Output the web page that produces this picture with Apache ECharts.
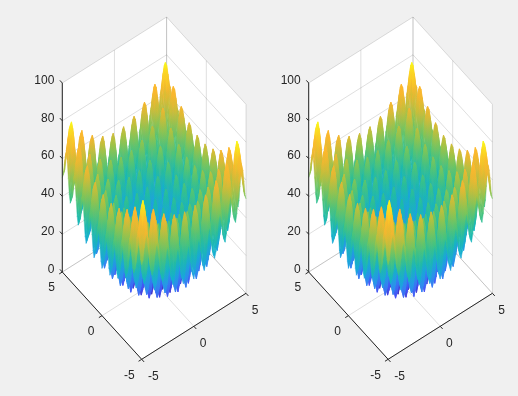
<!DOCTYPE html>
<html>
<head>
<meta charset="utf-8">
<style>
html,body{margin:0;padding:0;background:#f0f0f0;}
#main{width:518px;height:396px;}
</style>
<script src="https://cdn.jsdelivr.net/npm/echarts@6/dist/echarts.min.js"></script>
</head>
<body>
<div id="main"></div>
<script>
// heights read on a 0.125 grid, x and y from 0 to 5 (the surface repeats in the other quadrants)
var zQuarter = [
[0,3,10,17,20,17,11,4,1,4,12,19,22,20,13,6,4,7,15,23,26,24,18,11,9,13,21,28,32,30,24,18,16,20,28,36,40,38,33,27,25],
[3,6,13,20,23,20,14,7,4,7,15,22,25,23,16,9,7,10,18,26,29,27,21,14,12,16,24,31,35,33,27,21,19,23,31,39,43,41,36,30,28],
[10,13,20,27,30,27,21,14,11,14,22,29,32,30,23,16,14,17,25,33,36,34,28,21,19,23,31,38,42,40,34,28,26,30,38,46,50,48,43,37,35],
[17,20,27,34,37,34,28,21,18,21,29,36,39,37,30,23,21,24,32,40,43,41,35,28,26,30,38,45,49,47,41,35,33,37,45,53,57,55,50,44,42],
[20,23,30,37,40,37,31,24,21,24,32,39,42,40,33,26,24,27,35,43,46,44,38,31,29,33,41,48,52,50,44,38,36,40,48,56,60,58,53,47,45],
[17,20,27,34,37,34,28,21,18,21,29,36,39,37,30,23,21,24,32,40,43,41,35,28,26,30,38,45,49,47,41,35,33,37,45,53,57,55,50,44,42],
[11,14,21,28,31,28,22,15,12,15,23,30,33,31,24,17,15,18,26,34,37,35,29,22,20,24,32,39,43,41,35,29,27,31,39,47,51,49,44,38,36],
[4,7,14,21,24,21,15,8,5,8,16,23,26,24,17,10,8,11,19,27,30,28,22,15,13,17,25,32,36,34,28,22,20,24,32,40,44,42,37,31,29],
[1,4,11,18,21,18,12,5,2,5,13,20,23,21,14,7,5,8,16,24,27,25,19,12,10,14,22,29,33,31,25,19,17,21,29,37,41,39,34,28,26],
[4,7,14,21,24,21,15,8,5,8,16,23,26,24,17,10,8,11,19,27,30,28,22,15,13,17,25,32,36,34,28,22,20,24,32,40,44,42,37,31,29],
[12,15,22,29,32,29,23,16,13,16,24,31,34,32,25,18,16,19,27,35,38,36,30,23,21,25,33,40,44,42,36,30,28,32,40,48,52,50,45,39,37],
[19,22,29,36,39,36,30,23,20,23,31,38,41,39,32,25,23,26,34,42,45,43,37,30,28,32,40,47,51,49,43,37,35,39,47,55,59,57,52,46,44],
[22,25,32,39,42,39,33,26,23,26,34,41,44,42,35,28,26,29,37,45,48,46,40,33,31,35,43,50,54,52,46,40,38,42,50,58,62,60,55,49,47],
[20,23,30,37,40,37,31,24,21,24,32,39,42,40,33,26,24,27,35,43,46,44,38,31,29,33,41,48,52,50,44,38,36,40,48,56,60,58,53,47,45],
[13,16,23,30,33,30,24,17,14,17,25,32,35,33,26,19,17,20,28,36,39,37,31,24,22,26,34,41,45,43,37,31,29,33,41,49,53,51,46,40,38],
[6,9,16,23,26,23,17,10,7,10,18,25,28,26,19,12,10,13,21,29,32,30,24,17,15,19,27,34,38,36,30,24,22,26,34,42,46,44,39,33,31],
[4,7,14,21,24,21,15,8,5,8,16,23,26,24,17,10,8,11,19,27,30,28,22,15,13,17,25,32,36,34,28,22,20,24,32,40,44,42,37,31,29],
[7,10,17,24,27,24,18,11,8,11,19,26,29,27,20,13,11,14,22,30,33,31,25,18,16,20,28,35,39,37,31,25,23,27,35,43,47,45,40,34,32],
[15,18,25,32,35,32,26,19,16,19,27,34,37,35,28,21,19,22,30,38,41,39,33,26,24,28,36,43,47,45,39,33,31,35,43,51,55,53,48,42,40],
[23,26,33,40,43,40,34,27,24,27,35,42,45,43,36,29,27,30,38,46,49,47,41,34,32,36,44,51,55,53,47,41,39,43,51,59,63,61,56,50,48],
[26,29,36,43,46,43,37,30,27,30,38,45,48,46,39,32,30,33,41,49,52,50,44,37,35,39,47,54,58,56,50,44,42,46,54,62,66,64,59,53,51],
[24,27,34,41,44,41,35,28,25,28,36,43,46,44,37,30,28,31,39,47,50,48,42,35,33,37,45,52,56,54,48,42,40,44,52,60,64,62,57,51,49],
[18,21,28,35,38,35,29,22,19,22,30,37,40,38,31,24,22,25,33,41,44,42,36,29,27,31,39,46,50,48,42,36,34,38,46,54,58,56,51,45,43],
[11,14,21,28,31,28,22,15,12,15,23,30,33,31,24,17,15,18,26,34,37,35,29,22,20,24,32,39,43,41,35,29,27,31,39,47,51,49,44,38,36],
[9,12,19,26,29,26,20,13,10,13,21,28,31,29,22,15,13,16,24,32,35,33,27,20,18,22,30,37,41,39,33,27,25,29,37,45,49,47,42,36,34],
[13,16,23,30,33,30,24,17,14,17,25,32,35,33,26,19,17,20,28,36,39,37,31,24,22,26,34,41,45,43,37,31,29,33,41,49,53,51,46,40,38],
[21,24,31,38,41,38,32,25,22,25,33,40,43,41,34,27,25,28,36,44,47,45,39,32,30,34,42,49,53,51,45,39,37,41,49,57,61,59,54,48,46],
[28,31,38,45,48,45,39,32,29,32,40,47,50,48,41,34,32,35,43,51,54,52,46,39,37,41,49,56,60,58,52,46,44,48,56,64,68,66,61,55,53],
[32,35,42,49,52,49,43,36,33,36,44,51,54,52,45,38,36,39,47,55,58,56,50,43,41,45,53,60,64,62,56,50,48,52,60,68,72,70,65,59,57],
[30,33,40,47,50,47,41,34,31,34,42,49,52,50,43,36,34,37,45,53,56,54,48,41,39,43,51,58,62,60,54,48,46,50,58,66,70,68,63,57,55],
[24,27,34,41,44,41,35,28,25,28,36,43,46,44,37,30,28,31,39,47,50,48,42,35,33,37,45,52,56,54,48,42,40,44,52,60,64,62,57,51,49],
[18,21,28,35,38,35,29,22,19,22,30,37,40,38,31,24,22,25,33,41,44,42,36,29,27,31,39,46,50,48,42,36,34,38,46,54,58,56,51,45,43],
[16,19,26,33,36,33,27,20,17,20,28,35,38,36,29,22,20,23,31,39,42,40,34,27,25,29,37,44,48,46,40,34,32,36,44,52,56,54,49,43,41],
[20,23,30,37,40,37,31,24,21,24,32,39,42,40,33,26,24,27,35,43,46,44,38,31,29,33,41,48,52,50,44,38,36,40,48,56,60,58,53,47,45],
[28,31,38,45,48,45,39,32,29,32,40,47,50,48,41,34,32,35,43,51,54,52,46,39,37,41,49,56,60,58,52,46,44,48,56,64,68,66,61,55,53],
[36,39,46,53,56,53,47,40,37,40,48,55,58,56,49,42,40,43,51,59,62,60,54,47,45,49,57,64,68,66,60,54,52,56,64,72,76,74,69,63,61],
[40,43,50,57,60,57,51,44,41,44,52,59,62,60,53,46,44,47,55,63,66,64,58,51,49,53,61,68,72,70,64,58,56,60,68,76,80,78,73,67,65],
[38,41,48,55,58,55,49,42,39,42,50,57,60,58,51,44,42,45,53,61,64,62,56,49,47,51,59,66,70,68,62,56,54,58,66,74,78,76,71,65,63],
[33,36,43,50,53,50,44,37,34,37,45,52,55,53,46,39,37,40,48,56,59,57,51,44,42,46,54,61,65,63,57,51,49,53,61,69,73,71,66,60,58],
[27,30,37,44,47,44,38,31,28,31,39,46,49,47,40,33,31,34,42,50,53,51,45,38,36,40,48,55,59,57,51,45,43,47,55,63,67,65,60,54,52],
[25,28,35,42,45,42,36,29,26,29,37,44,47,45,38,31,29,32,40,48,51,49,43,36,34,38,46,53,57,55,49,43,41,45,53,61,65,63,58,52,50]
];
var xTicks = [-5, 0, 5];
var yTicks = [-5, 0, 5];
var zTicks = [0, 20, 40, 60, 80, 100];
var panelLeft = [0, 246.4];

// parula
var parula = ['#3e26a8','#4549f5','#3a78f5','#2796eb','#0fb2ce','#22bd9c','#5ec76a','#aec23d','#f5b52f','#fdb92c','#f9fb15'];
var zMaxColor = 80;
var gridStep = 0.125;
var halfCount = zQuarter.length - 1;

var chart = echarts.init(document.getElementById('main'));

// view of the box: x=-5,y=-5,z=0 sits at the bottom corner
function project(x, y, z) {
  return [
    154.15 + x * 10.43 + y * -7.94,
    282.65 + x * -6.6 + y * -8.73 + z * -1.89
  ];
}
function zColor(z) {
  var t = Math.min(1, Math.max(0, z / zMaxColor));
  return echarts.color.lerp(t, parula);
}
function zAt(i, j) {
  return zQuarter[Math.abs(i - halfCount)][Math.abs(j - halfCount)];
}

// back to front, camera looks from the -x,-y corner
var cells = [];
for (var i = 2 * halfCount - 1; i >= 0; i--) {
  for (var j = 2 * halfCount - 1; j >= 0; j--) {
    cells.push([i, j]);
  }
}

function renderCell(params, api) {
  var a = api.value(0), b = api.value(1);
  var corners = [[a, b], [a + 1, b], [a + 1, b + 1], [a, b + 1]];
  var pts = [], lo = null, hi = null;
  corners.forEach(function (c) {
    var z = zAt(c[0], c[1]);
    var p = api.coord(project(-5 + c[0] * gridStep, -5 + c[1] * gridStep, z));
    pts.push(p);
    if (!lo || z < lo.z) lo = { z: z, p: p };
    if (!hi || z > hi.z) hi = { z: z, p: p };
  });
  var fill = zColor((lo.z + hi.z) / 2);
  if (hi.z > lo.z) {
    fill = new echarts.graphic.LinearGradient(lo.p[0], lo.p[1], hi.p[0], hi.p[1], [
      { offset: 0, color: zColor(lo.z) },
      { offset: 1, color: zColor(hi.z) }
    ], true);
  }
  return {
    type: 'polygon',
    shape: { points: pts },
    style: { fill: fill, stroke: fill, lineWidth: 0.4 }
  };
}

function renderSegment(params, api) {
  var p1 = api.coord(project(api.value(0), api.value(1), api.value(2)));
  var p2 = api.coord(project(api.value(3), api.value(4), api.value(5)));
  return {
    type: 'line',
    shape: { x1: p1[0], y1: p1[1], x2: p2[0], y2: p2[1] },
    style: { stroke: api.value(6) ? '#262626' : 'rgba(38,38,38,0.15)', lineWidth: 1 }
  };
}

function renderWall(params, api) {
  var outline = [[-5, 5, 100], [5, 5, 100], [5, -5, 100], [5, -5, 0], [-5, -5, 0], [-5, 5, 0]];
  return {
    type: 'polygon',
    shape: { points: outline.map(function (c) { return api.coord(project(c[0], c[1], c[2])); }) },
    style: { fill: '#ffffff' }
  };
}

function renderLabel(params, api) {
  var p = api.coord(project(api.value(0), api.value(1), api.value(2)));
  return {
    type: 'text',
    x: p[0] + api.value(3),
    y: p[1] + api.value(4),
    style: {
      text: String(api.value(5)),
      fill: '#262626',
      font: '12px "Liberation Sans"',
      align: api.value(6) ? 'right' : 'center',
      verticalAlign: 'middle'
    }
  };
}

// grid lines on the walls and floor, last field 1 = dark axis line
var gridSegs = [], axisSegs = [], labelRows = [];
zTicks.forEach(function (z) {
  gridSegs.push([-5, 5, z, 5, 5, z, 0]);
  gridSegs.push([5, 5, z, 5, -5, z, 0]);
});
xTicks.forEach(function (x) {
  gridSegs.push([x, 5, 0, x, 5, 100, 0]);
  gridSegs.push([x, -5, 0, x, -5 + 10, 0, 0]);
});
yTicks.forEach(function (y) {
  gridSegs.push([5, y, 0, 5, y, 100, 0]);
  gridSegs.push([-5, y, 0, 5, y, 0, 0]);
});
axisSegs.push([-5, 5, 0, -5, 5, 100, 1]);
axisSegs.push([-5, -5, 0, -5, 5, 0, 1]);
axisSegs.push([-5, -5, 0, 5, -5, 0, 1]);
zTicks.forEach(function (z) {
  axisSegs.push([-5, 5, z, -5, 5.3, z, 1]);
  labelRows.push([-5, 5, z, -8, -2.6, z, 1]);
});
yTicks.forEach(function (y) {
  axisSegs.push([-5, y, 0, -5.3, y, 0, 1]);
  labelRows.push([-5, y, 0, y < 0 ? -12.4 : -10.8, 16, y, 0]);
});
xTicks.forEach(function (x) {
  axisSegs.push([x, -5, 0, x, -5.3, 0, 1]);
  labelRows.push([x, -5, 0, x < 0 ? 11.6 : 9.2, 16.9, x, 0]);
});

var grids = [], xAxes = [], yAxes = [], seriesList = [];
panelLeft.forEach(function (left, n) {
  grids.push({ left: left, top: 0, width: 271, height: 396 });
  xAxes.push({ type: 'value', gridIndex: n, min: 0, max: 271, show: false });
  yAxes.push({ type: 'value', gridIndex: n, min: 0, max: 396, inverse: true, show: false });
  var common = { type: 'custom', coordinateSystem: 'cartesian2d', xAxisIndex: n, yAxisIndex: n, silent: true, animation: false, progressive: 0, clip: false };
  seriesList.push(Object.assign({}, common, { renderItem: renderWall, data: [[0, 0]] }));
  seriesList.push(Object.assign({}, common, { renderItem: renderSegment, data: gridSegs }));
  seriesList.push(Object.assign({}, common, { renderItem: renderCell, data: cells }));
  seriesList.push(Object.assign({}, common, { renderItem: renderSegment, data: axisSegs }));
  seriesList.push(Object.assign({}, common, { renderItem: renderLabel, data: labelRows }));
});

chart.setOption({
  backgroundColor: '#f0f0f0',
  animation: false,
  grid: grids,
  xAxis: xAxes,
  yAxis: yAxes,
  series: seriesList
});
</script>
</body>
</html>
